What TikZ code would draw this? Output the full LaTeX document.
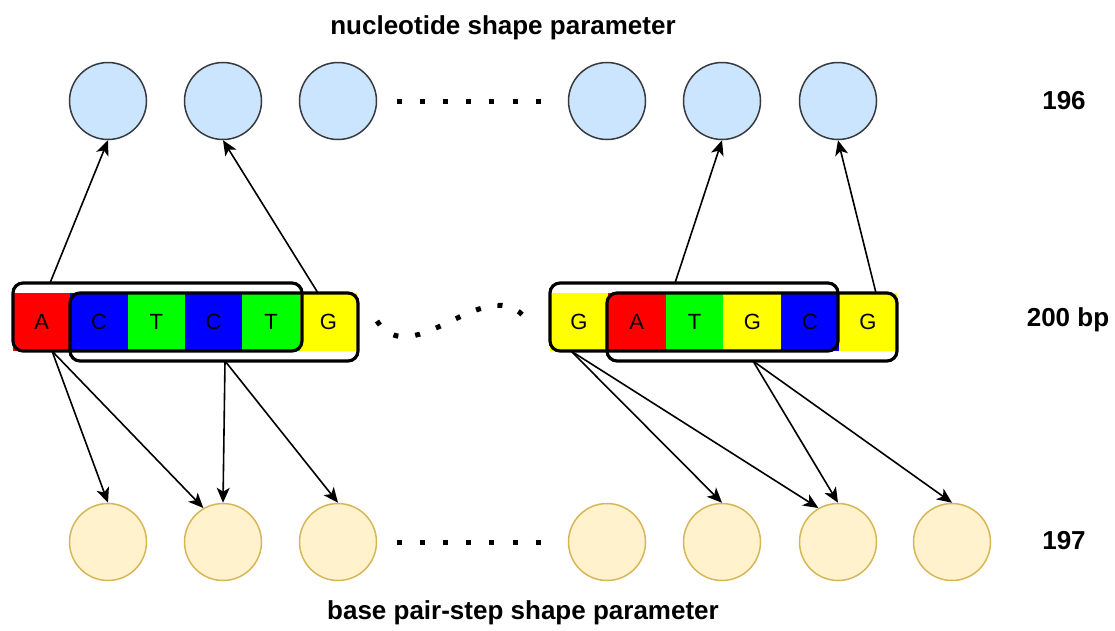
\documentclass[tikz,border=0pt]{standalone}
\usepackage{fontspec}
\setmainfont{Liberation Sans}
\usetikzlibrary{arrows.meta}

\definecolor{ntfill}{HTML}{CCE5FF}
\definecolor{ntline}{HTML}{36393D}
\definecolor{bpfill}{HTML}{FFF2CC}
\definecolor{bpline}{HTML}{D6B656}
\definecolor{baseA}{HTML}{FF0000}
\definecolor{baseC}{HTML}{0000FF}
\definecolor{baseT}{HTML}{00FF00}
\definecolor{baseG}{HTML}{FFFF00}

\tikzset{
  ntnode/.style={circle, draw=ntline, fill=ntfill, line width=1.5pt, minimum size=77pt, inner sep=0pt},
  bpnode/.style={circle, draw=bpline, fill=bpfill, line width=1.5pt, minimum size=77pt, inner sep=0pt},
  base/.style={minimum height=58pt, inner sep=0pt, font=\fontsize{22}{26}\selectfont},
  window/.style={draw, line width=3.2pt, rounded corners=10pt, inner sep=0pt, minimum height=68pt},
  link/.style={line width=1.6pt, -{Stealth[length=15pt,width=13pt,inset=4pt]}},
  sqdots/.style={line width=5pt, dash pattern=on 5pt off 18.2pt},
  lbl/.style={font=\bfseries\fontsize{26}{30}\selectfont},
}

\begin{document}
\begin{tikzpicture}[x=1pt, y=-1pt]
    \useasboundingbox (0,0) rectangle (1115,630);

    % the two sequence fragments
    \foreach \b [count=\i] in {A,C,T,C,T,G}
        \node[base, fill=base\b, minimum width=57.4pt] (l\i) at ({41.7+57.33*(\i-1)}, 322) {\b};
    \foreach \b [count=\i] in {G,A,T,G,C,G}
        \node[base, fill=base\b, minimum width=58pt] (r\i) at ({578.9+57.8*(\i-1)}, 322) {\b};

    % sliding windows
    \node[window, minimum width=289pt] (winL1) at (157.5,317) {};
    \node[window, minimum width=288pt] (winL2) at (214,327) {};
    \node[window, minimum width=288pt] (winR1) at (694,317) {};
    \node[window, minimum width=290pt] (winR2) at (752,327) {};

    % shape parameter circles
    \foreach \x [count=\i] in {108,223,338,607,722,838}
        \node[ntnode] (n\i) at (\x,101) {};
    \foreach \x [count=\i] in {108,223,338,607,722,838,952}
        \node[bpnode] (b\i) at (\x,542) {};

    \draw[sqdots] (396.5,101) -- (541,101);
    \draw[sqdots] (396.5,542) -- (541,542);
    \draw[sqdots, dash pattern=on 5pt off 17pt] (377,321) .. controls (412,375) and (488,268) .. (527,320);

    % arrows out of the windows
    \coordinate (s1) at (50,283);
    \coordinate (s2) at (318,293);
    \coordinate (s3) at (675,283);
    \coordinate (s4) at (876,293);
    \coordinate (t1) at (52,351);
    \coordinate (t2) at (225,361);
    \coordinate (t3) at (571,351);
    \coordinate (t4) at (753,361);

    \draw[link] (s1) -- (n1.south);
    \draw[link] (s2) -- (n2.south);
    \draw[link] (s3) -- (n5.south);
    \draw[link] (s4) -- (n6.south);

    \draw[link] (t1) -- (b1.north);
    \draw[link] (t1) -- (b2.120);
    \draw[link] (t2) -- (b2.north);
    \draw[link] (t2) -- (b3.north);
    \draw[link] (t3) -- (b5.north);
    \draw[link] (t3) -- (b6.120);
    \draw[link] (t4) -- (b6.north);
    \draw[link] (t4) -- (b7.north);

    % labels
    \node[lbl] (top) at (503,28) {nucleotide shape parameter};
    \node[lbl] (bottom) at (523,613) {base pair-step shape parameter};
    \node[lbl] (cnt1) at (1064,101) {196};
    \node[lbl] (cnt2) at (1068,320) {200 bp};
    \node[lbl] (cnt3) at (1064,541) {197};
\end{tikzpicture}
\end{document}
